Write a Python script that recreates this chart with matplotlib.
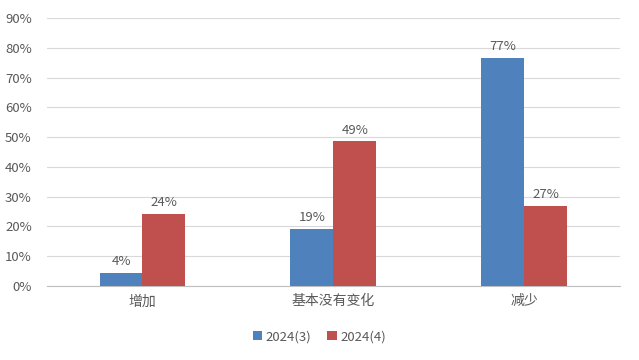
import matplotlib.pyplot as plt
import numpy as np

plt.rcParams['font.family'] = ['Noto Sans CJK SC', 'DejaVu Sans']

categories = ['增加', '基本没有变化', '减少']
series_names = ['2024(3)', '2024(4)']
values_3 = [4.4, 19.2, 76.6]
values_4 = [24.3, 48.6, 26.9]
colors = ['#4F81BD', '#C0504D']
text_color = '#595959'

fig = plt.figure(figsize=(6.39, 3.6), dpi=100)
ax = fig.add_axes([0.0736, 0.2056, 0.8964, 0.7444])

x = np.arange(len(categories))
w = 0.225
for i, (vals, name) in enumerate([(values_3, series_names[0]), (values_4, series_names[1])]):
    pos = x + (i - 0.5) * w
    ax.bar(pos, vals, width=w, color=colors[i], label=name, zorder=3)
    for p, v in zip(pos, vals):
        ax.text(p, v + 1.5, f'{round(v)}%', ha='center', va='bottom',
                fontsize=9.5, color=text_color)

ax.set_xlim(-0.5, 2.5)
ax.set_ylim(0, 90)
ax.set_yticks(range(0, 91, 10))
ax.set_yticklabels([f'{t}%' for t in range(0, 91, 10)])
ax.set_xticks(x)
ax.set_xticklabels(categories)
ax.tick_params(axis='both', length=0, labelsize=9.5, colors=text_color)
ax.tick_params(axis='x', labelsize=10, pad=6)
ax.tick_params(axis='y', pad=11)
ax.grid(axis='y', color='#D9D9D9', linewidth=0.8, zorder=0)
for s in ['top', 'right', 'left']:
    ax.spines[s].set_visible(False)
ax.spines['bottom'].set_color('#BFBFBF')

fig.legend(loc='center', bbox_to_anchor=(0.5, 0.065), ncol=2, frameon=False,
           fontsize=9.5, handlelength=0.7, handleheight=0.7, columnspacing=1.2,
           handletextpad=0.3, labelcolor=text_color)

fig.savefig('out.png', dpi=100)
